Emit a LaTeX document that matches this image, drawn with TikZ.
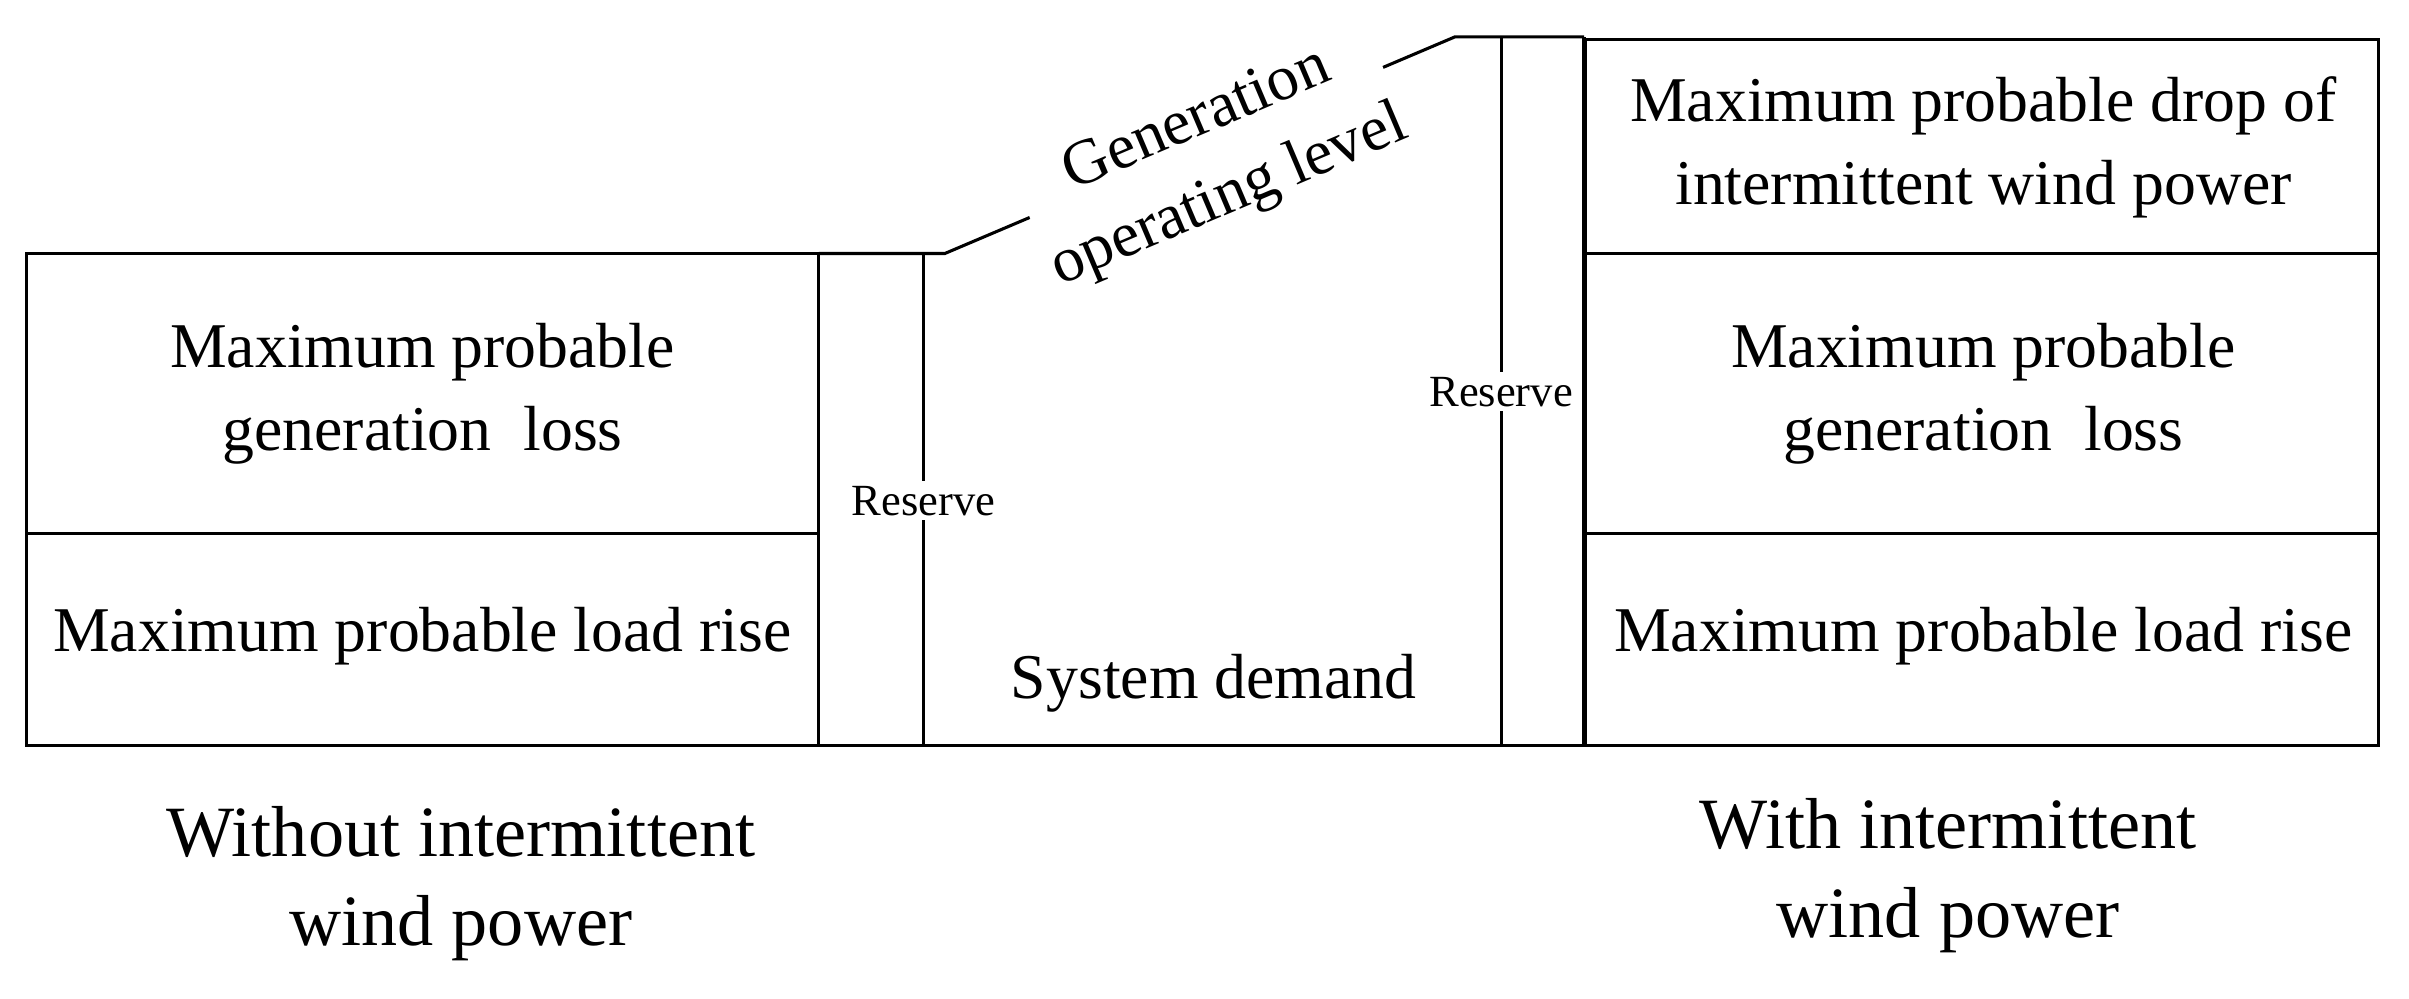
\documentclass[tikz,border=0pt]{standalone}
\usepackage{fontspec}
\setmainfont{Liberation Serif}
\begin{document}
\begin{tikzpicture}[x=1pt,y=-1pt,line width=2pt,
  big/.style={font=\fontsize{41.5}{54}\selectfont,align=center},
  res/.style={font=\fontsize{29}{34}\selectfont,fill=white,inner sep=3pt},
  captext/.style={font=\fontsize{47}{58}\selectfont,align=center}]
\useasboundingbox (0,0) rectangle (1568,650);
% left boxes
\draw (17,165) rectangle (533,485);
\draw (17,347) -- (533,347);
\node[big] (lgl) at (275,256) {Maximum probable\\generation\ \ loss};
\node[big] (llr) at (275,414) {Maximum probable load rise};
% center
\coordinate (a) at (533,165);
\coordinate (b) at (615,165);
\coordinate (c) at (947,24);
\coordinate (d) at (1031,24);
\draw (a) -- (b) -- (c) -- (d);
\draw (533,165) -- (533,485) -- (1031,485) -- (1031,24);
\draw (601,165) -- (601,485);
\draw (977,24) -- (977,485);
\node[res] (r1) at (601,326) {Reserve};
\node[res] (r2) at (977,255) {Reserve};
\node[big,rotate=23,fill=white,inner sep=1pt] (gol) at (790,104) {Generation\\operating level};
\node[big] (sd) at (790,445) {System demand};
% right boxes
\draw (1032,26) rectangle (1548,485);
\draw (1032,165) -- (1548,165);
\draw (1032,347) -- (1548,347);
\node[big] (rdw) at (1291,96) {Maximum probable drop of\\intermittent wind power};
\node[big] (rgl) at (1291,256) {Maximum probable\\generation\ \ loss};
\node[big] (rlr) at (1291,414) {Maximum probable load rise};
% captions
\node[captext] (cl) at (300,575) {Without intermittent\\wind power};
\node[captext] (cr) at (1268,570) {With intermittent\\wind power};
\end{tikzpicture}
\end{document}
